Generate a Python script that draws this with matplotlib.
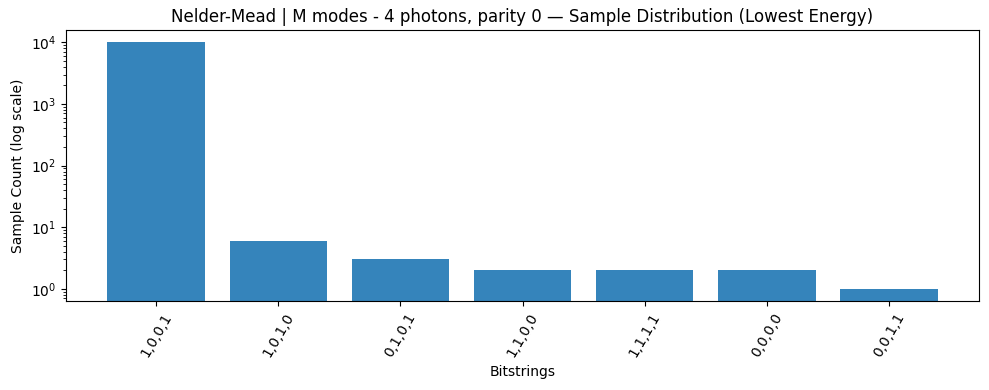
import matplotlib
matplotlib.use("Agg")
import matplotlib.pyplot as plt

bitstrings = ["1,0,0,1", "1,0,1,0", "0,1,0,1", "1,1,0,0", "1,1,1,1", "0,0,0,0", "0,0,1,1"]
counts = [9984, 6, 3, 2, 2, 2, 1]

fig, ax = plt.subplots(figsize=(9.89, 3.9), dpi=100)
ax.bar(bitstrings, counts, color="tab:blue", alpha=0.9)
ax.set_yscale("log")
ax.set_xlabel("Bitstrings")
ax.set_ylabel("Sample Count (log scale)")
ax.set_title("Nelder-Mead | M modes - 4 photons, parity 0 — Sample Distribution (Lowest Energy)")
plt.setp(ax.get_xticklabels(), rotation=60)
fig.subplots_adjust(left=0.0667, right=0.990, top=0.923, bottom=0.228)
fig.savefig("out.png", dpi=100)
